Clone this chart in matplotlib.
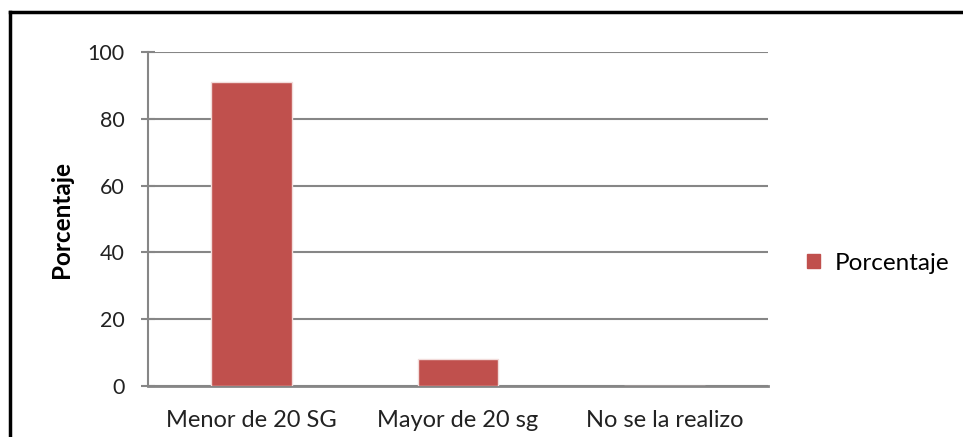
import matplotlib.pyplot as plt
from matplotlib.lines import Line2D
import numpy as np

categories = ["Menor de 20 SG", "Mayor de 20 sg", "No se la realizo"]
porcentaje = [91, 8, 0]
y_ticks = [0, 20, 40, 60, 80, 100]

plt.rcParams['font.family'] = ['Lato', 'DejaVu Sans']

fig = plt.figure(figsize=(9.63, 4.37), dpi=100)
ax = fig.add_axes([0.1537, 0.1167, 0.6438, 0.7643])

x = np.arange(len(categories))
bars = ax.bar(x, porcentaje, width=0.39, color='#C0504D', edgecolor='#F2DCDB',
              linewidth=1.0, label='Porcentaje', zorder=3)

ax.set_xlim(-0.5, len(categories) - 0.5)
ax.set_ylim(0, 100)
ax.set_yticks(y_ticks)
ax.set_xticks(x)
ax.set_xticklabels(categories, fontsize=17, color='#222222')
ax.tick_params(axis='y', labelsize=15.5, colors='#222222', direction='inout',
               length=10, width=1.5, color='#868686', pad=12)
ax.tick_params(axis='x', length=0, pad=17)
ax.grid(axis='y', color='#868686', linewidth=1.5, zorder=0)
for s in ['top', 'right']:
    ax.spines[s].set_visible(False)
ax.spines['left'].set_color('#868686')
ax.spines['left'].set_linewidth(1.5)
ax.spines['bottom'].set_color('#868686')
ax.spines['bottom'].set_linewidth(2)
ax.set_ylabel('Porcentaje', fontsize=17.5, fontweight='bold', labelpad=10)

fig.legend(handles=[plt.Rectangle((0, 0), 1, 1, color='#C0504D')], labels=['Porcentaje'],
           loc='center left', bbox_to_anchor=(0.815, 0.398), frameon=False,
           fontsize=17.5, handlelength=0.55, handleheight=0.55, handletextpad=0.6)

# outer border (top and left only are visible)
fig.add_artist(Line2D([0.0104, 0.0104], [0, 0.973], color='black', linewidth=2.5))
fig.add_artist(Line2D([0.0104, 1.0], [0.973, 0.973], color='black', linewidth=2.5))

fig.savefig('out.png', dpi=100)
